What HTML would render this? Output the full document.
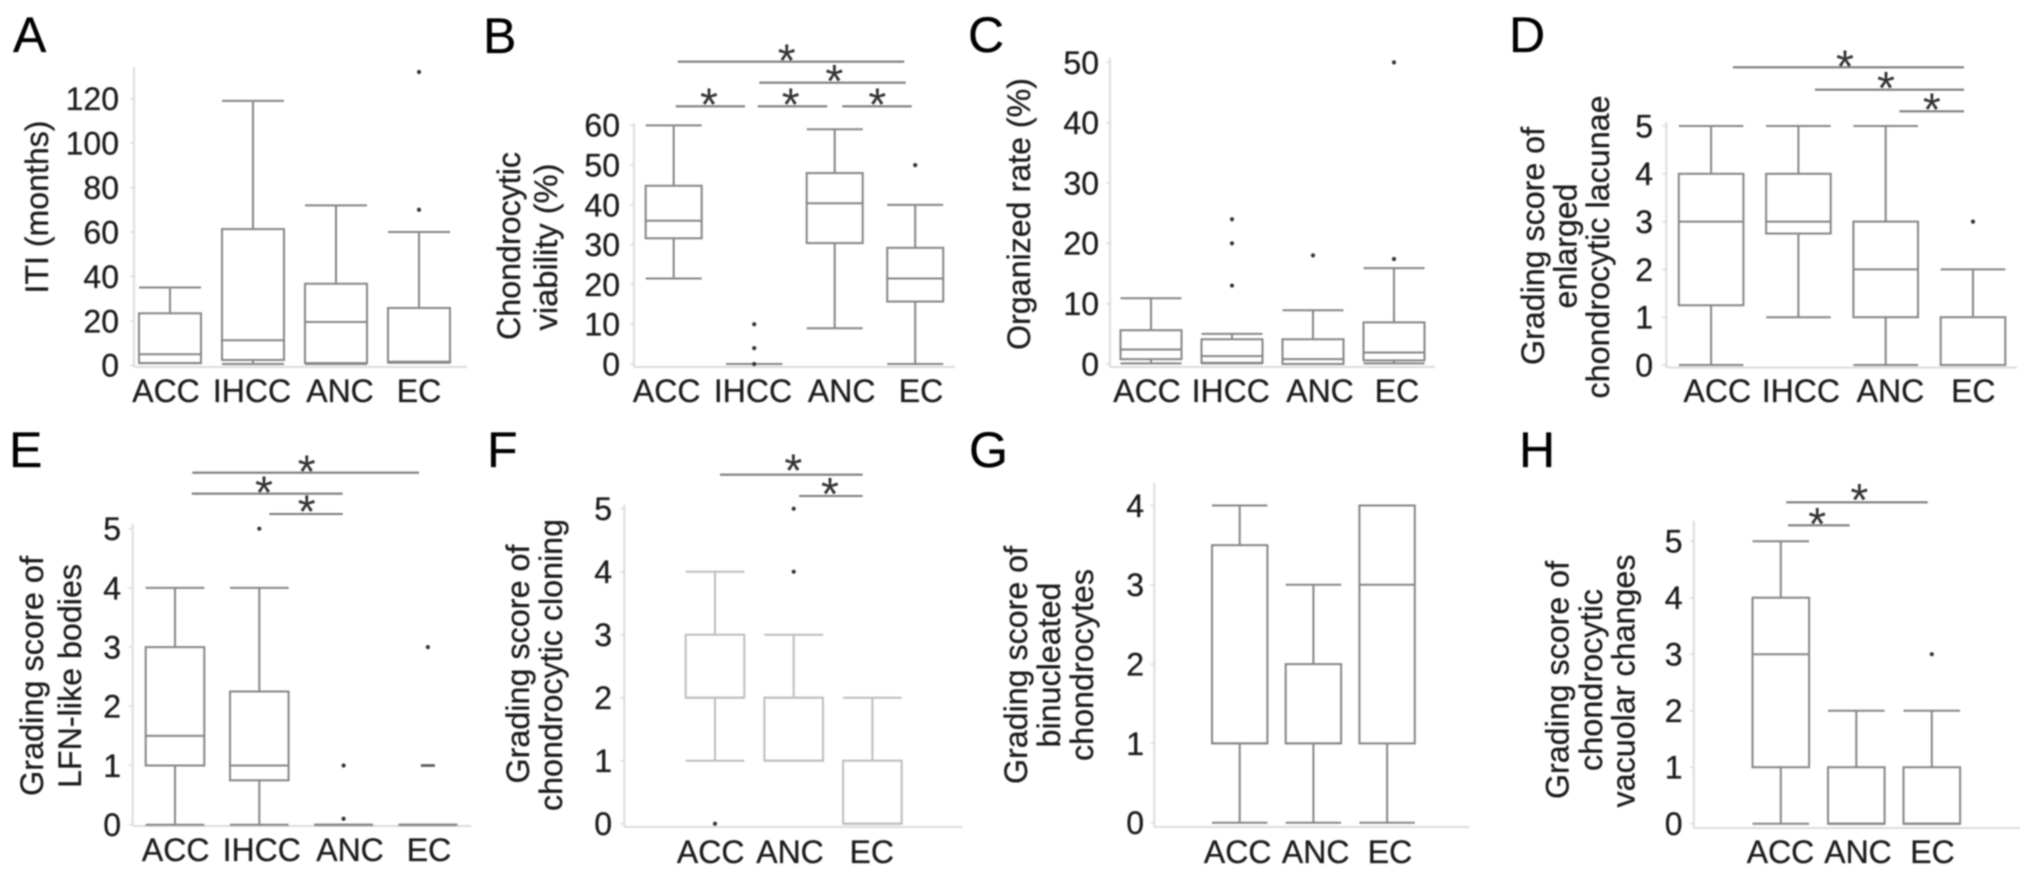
<!DOCTYPE html>
<html lang="en">
<head>
<meta charset="utf-8">
<title>Boxplots of grading scores</title>
<style>
  html, body { margin: 0; padding: 0; background: #fff; }
  #figure { display: block; width: 2032px; height: 876px; filter: blur(0.7px); }
  text { font-family: "Liberation Sans", sans-serif; }
  .letter { font-size: 50px; fill: #000; stroke: #000; stroke-width: 0.3px; }
  .ytitle { font-size: 32px; fill: #1c1c1c; stroke: #1c1c1c; stroke-width: 0.3px; text-anchor: middle; }
</style>
</head>
<body>
<svg id="figure" xmlns="http://www.w3.org/2000/svg" width="2032" height="876" viewBox="0 0 2032 876">
  <rect width="2032" height="876" fill="#fff"/>

  <text class="letter" x="13" y="52">A</text>
  <text class="letter" x="483" y="53">B</text>
  <text class="letter" x="968" y="52">C</text>
  <text class="letter" x="1509" y="52">D</text>
  <text class="letter" x="9" y="467">E</text>
  <text class="letter" x="487" y="467">F</text>
  <text class="letter" x="969" y="467">G</text>
  <text class="letter" x="1519" y="467">H</text>

  <text class="ytitle" transform="translate(48,207) rotate(-90)" textLength="173" lengthAdjust="spacingAndGlyphs">ITI (months)</text>

  <text class="ytitle" transform="translate(520,246) rotate(-90)" textLength="188" lengthAdjust="spacingAndGlyphs">Chondrocytic</text>
  <text class="ytitle" transform="translate(557,247) rotate(-90)" textLength="167" lengthAdjust="spacingAndGlyphs">viability (%)</text>

  <text class="ytitle" transform="translate(1030,214) rotate(-90)" textLength="272" lengthAdjust="spacingAndGlyphs">Organized rate (%)</text>

  <text class="ytitle" transform="translate(1544,246) rotate(-90)" textLength="238" lengthAdjust="spacingAndGlyphs">Grading score of</text>
  <text class="ytitle" transform="translate(1576.5,246) rotate(-90)" textLength="125" lengthAdjust="spacingAndGlyphs">enlarged</text>
  <text class="ytitle" transform="translate(1609,247) rotate(-90)" textLength="303" lengthAdjust="spacingAndGlyphs">chondrocytic lacunae</text>

  <text class="ytitle" transform="translate(43,676) rotate(-90)" textLength="240" lengthAdjust="spacingAndGlyphs">Grading score of</text>
  <text class="ytitle" transform="translate(81,676) rotate(-90)" textLength="224" lengthAdjust="spacingAndGlyphs">LFN-like bodies</text>

  <text class="ytitle" transform="translate(529,664) rotate(-90)" textLength="239" lengthAdjust="spacingAndGlyphs">Grading score of</text>
  <text class="ytitle" transform="translate(562,665) rotate(-90)" textLength="292" lengthAdjust="spacingAndGlyphs">chondrocytic cloning</text>

  <text class="ytitle" transform="translate(1027,665) rotate(-90)" textLength="238" lengthAdjust="spacingAndGlyphs">Grading score of</text>
  <text class="ytitle" transform="translate(1060,665) rotate(-90)" textLength="165" lengthAdjust="spacingAndGlyphs">binucleated</text>
  <text class="ytitle" transform="translate(1093,665) rotate(-90)" textLength="192" lengthAdjust="spacingAndGlyphs">chondrocytes</text>

  <text class="ytitle" transform="translate(1568.3,680) rotate(-90)" textLength="238" lengthAdjust="spacingAndGlyphs">Grading score of</text>
  <text class="ytitle" transform="translate(1602,680) rotate(-90)" textLength="182" lengthAdjust="spacingAndGlyphs">chondrocytic</text>
  <text class="ytitle" transform="translate(1634.6,681) rotate(-90)" textLength="253" lengthAdjust="spacingAndGlyphs">vacuolar changes</text>

  <g id="panel-a"></g>
  <g id="panel-b"></g>
  <g id="panel-c"></g>
  <g id="panel-d"></g>
  <g id="panel-e"></g>
  <g id="panel-f"></g>
  <g id="panel-g"></g>
  <g id="panel-h"></g>
</svg>

<script>
/* ---------- Data: panel A ---------- */
const aCategories = ['ACC', 'IHCC', 'ANC', 'EC'];
const aTicks = [0, 20, 40, 60, 80, 100, 120];
const aLow = [1, 0.6, 0.6, 1.2];
const aQ1 = [1, 2.4, 1, 1.2];
const aMedian = [5, 11.3, 19.5, 1.6];
const aQ3 = [23.4, 61.3, 36.7, 25.8];
const aHigh = [35, 119, 72, 60];
const aOutliers = [[], [], [], [70, 132]];

/* ---------- Data: panel B ---------- */
const bCategories = ['ACC', 'IHCC', 'ANC', 'EC'];
const bTicks = [0, 10, 20, 30, 40, 50, 60];
const bLow = [21.5, 0, 9, 0];
const bQ1 = [31.6, 0, 30.4, 15.7];
const bMedian = [36, 0, 40.4, 21.5];
const bQ3 = [44.8, 0, 48, 29.2];
const bHigh = [60, 0, 59, 40];
const bOutliers = [[], [0, 4, 10], [], [50]];

/* ---------- Data: panel C ---------- */
const cCategories = ['ACC', 'IHCC', 'ANC', 'EC'];
const cTicks = [0, 10, 20, 30, 40, 50];
const cLow = [0.1, 0.1, 0, 0.1];
const cQ1 = [0.8, 0.2, 0, 0.6];
const cMedian = [2.4, 1.3, 0.8, 1.9];
const cQ3 = [5.6, 4.1, 4.1, 6.9];
const cHigh = [10.9, 5, 8.9, 15.9];
const cOutliers = [[], [13, 20, 24], [18], [17.4, 50]];

/* ---------- Data: panel D ---------- */
const dCategories = ['ACC', 'IHCC', 'ANC', 'EC'];
const dTicks = [0, 1, 2, 3, 4, 5];
const dLow = [0, 1, 0, 0];
const dQ1 = [1.25, 2.75, 1, 0];
const dMedian = [3, 3, 2, 0];
const dQ3 = [4, 4, 3, 1];
const dHigh = [5, 5, 5, 2];
const dOutliers = [[], [], [], [3]];

/* ---------- Data: panel E ---------- */
const eCategories = ['ACC', 'IHCC', 'ANC', 'EC'];
const eTicks = [0, 1, 2, 3, 4, 5];
const eLow = [0, 0, 0, 0];
const eQ1 = [1, 0.75, 0, 0];
const eMedian = [1.5, 1, 0, 0];
const eQ3 = [3, 2.25, 0, 0];
const eHigh = [4, 4, 0, 0];
const eOutliers = [[], [5], [0.1, 1], [3]];
const eClusteredOutliers = [null, null, null, 1];

/* ---------- Data: panel F ---------- */
const fCategories = ['ACC', 'ANC', 'EC'];
const fTicks = [0, 1, 2, 3, 4, 5];
const fLow = [1, 1, 0];
const fQ1 = [2, 1, 0];
const fMedian = [2, 2, 0];
const fQ3 = [3, 2, 1];
const fHigh = [4, 3, 2];
const fOutliers = [[0], [4, 5], []];

/* ---------- Data: panel G ---------- */
const gCategories = ['ACC', 'ANC', 'EC'];
const gTicks = [0, 1, 2, 3, 4];
const gLow = [0, 0, 0];
const gQ1 = [1, 1, 1];
const gMedian = [1, 1, 3];
const gQ3 = [3.5, 2, 4];
const gHigh = [4, 3, 4];
const gOutliers = [[], [], []];

/* ---------- Data: panel H ---------- */
const hCategories = ['ACC', 'ANC', 'EC'];
const hTicks = [0, 1, 2, 3, 4, 5];
const hLow = [0, 0, 0];
const hQ1 = [1, 0, 0];
const hMedian = [3, 0, 0];
const hQ3 = [4, 1, 1];
const hHigh = [5, 2, 2];
const hOutliers = [[], [], [3]];

/* ---------- Drawing ---------- */
const SVG_NS = 'http://www.w3.org/2000/svg';
const LINE_COLOR = '#858585';
const AXIS_COLOR = '#dcdcdc';
const TEXT_COLOR = '#1c1c1c';

function make(parent, tag, attrs) {
  const el = document.createElementNS(SVG_NS, tag);
  for (const key in attrs) el.setAttribute(key, attrs[key]);
  parent.appendChild(el);
  return el;
}

function drawPanel(id, data, geo) {
  const root = document.getElementById(id);
  const xScale = function (i) { return geo.x0 + i * geo.step; };
  const yScale = function (v) { return geo.y0 - v * geo.unit; };
  const stroke = geo.stroke || LINE_COLOR;

  /* axes */
  const yAxis = make(root, 'line', { x1: geo.axisX, x2: geo.axisX, y1: geo.axisTop, y2: geo.baseline, stroke: AXIS_COLOR, 'stroke-width': 2 });
  
  
  const xAxis = make(root, 'line', { x1: geo.axisX, x2: geo.axisRight, y1: geo.baseline, y2: geo.baseline, stroke: AXIS_COLOR, 'stroke-width': 2 });
  
  

  /* y ticks */
  data.ticks.forEach(function (t) {
    const mark = make(root, 'line', { x1: geo.axisX - 4, x2: geo.axisX, y1: yScale(t), y2: yScale(t), stroke: AXIS_COLOR, 'stroke-width': 1.5 });
    
    
    const label = make(root, 'text', { x: geo.tickRight, y: yScale(t) + 11.4, 'text-anchor': 'end', 'font-size': 32, fill: TEXT_COLOR, stroke: TEXT_COLOR, 'stroke-width': 0.3 });
    label.textContent = String(t);
    
    
  });

  /* boxes */
  data.categories.forEach(function (cat, i) {
    const cx = xScale(i);
    const left = cx - geo.half;
    const right = cx + geo.half;
    const group = make(root, 'g', { fill: 'none', stroke: stroke, 'stroke-width': 2 });
    
    

    const upper = make(group, 'line', { x1: cx, x2: cx, y1: yScale(data.high[i]), y2: yScale(data.q3[i]) });
    
    
    const lower = make(group, 'line', { x1: cx, x2: cx, y1: yScale(data.q1[i]), y2: yScale(data.low[i]) });
    
    
    const capHigh = make(group, 'line', { x1: left, x2: right, y1: yScale(data.high[i]), y2: yScale(data.high[i]) });
    
    
    const capLow = make(group, 'line', { x1: left, x2: right, y1: yScale(data.low[i]), y2: yScale(data.low[i]) });
    
    
    const box = make(group, 'rect', { x: left, width: right - left, y: yScale(data.q3[i]), height: yScale(data.q1[i]) - yScale(data.q3[i]) });
    
    
    const median = make(group, 'line', { x1: left, x2: right, y1: yScale(data.median[i]), y2: yScale(data.median[i]) });
    
    

    data.outliers[i].forEach(function (v) {
      const dot = make(root, 'circle', { cx: cx, cy: yScale(v), r: 2.1, fill: '#333' });
      
      
    });

    if (data.clustered && data.clustered[i] !== null) {
      const dash = make(root, 'line', { x1: cx - 7, x2: cx + 7, y1: yScale(data.clustered[i]), y2: yScale(data.clustered[i]), stroke: '#555', 'stroke-width': 2.6 });
      
      
    }

    const catLabel = make(root, 'text', { x: geo.labelX[i], y: geo.labelY, 'text-anchor': 'middle', 'font-size': 32, fill: TEXT_COLOR, stroke: TEXT_COLOR, 'stroke-width': 0.3 });
    catLabel.textContent = cat;
    
    
  });

  /* significance annotations */
  (geo.brackets || []).forEach(function (b) {
    const bar = make(root, 'line', { x1: b[0], x2: b[1], y1: b[2], y2: b[2], stroke: '#7c7c7c', 'stroke-width': 2.1 });
    
    
  });
  (geo.stars || []).forEach(function (s) {
    const star = make(root, 'text', { x: s[0], y: s[1] + 23, 'text-anchor': 'middle', 'font-size': 46, fill: '#333' });
    star.textContent = '*';
    
    
  });
}

drawPanel('panel-a',
  { categories: aCategories, ticks: aTicks, low: aLow, q1: aQ1, median: aMedian, q3: aQ3, high: aHigh, outliers: aOutliers },
  { x0: 170, step: 83, half: 31, y0: 365.3, unit: 2.222, axisX: 134, axisTop: 67, axisRight: 467, baseline: 367, tickRight: 119,
    labelX: [166, 252, 340, 419], labelY: 402 });

drawPanel('panel-b',
  { categories: bCategories, ticks: bTicks, low: bLow, q1: bQ1, median: bMedian, q3: bQ3, high: bHigh, outliers: bOutliers },
  { x0: 673.7, step: 80.5, half: 28, y0: 364, unit: 3.978, axisX: 634, axisTop: 123, axisRight: 955, baseline: 367, tickRight: 620,
    labelX: [666.7, 753, 841.7, 921], labelY: 402,
    brackets: [[677.7, 904.3, 61.7], [759.3, 905.7, 82.7], [675.7, 745, 106.3], [757.7, 827.3, 106.3], [842.3, 911.7, 106.3]],
    stars: [[786.7, 53.3], [834.3, 74], [709, 97.3], [790.7, 97.3], [877.3, 97.3]] });

drawPanel('panel-c',
  { categories: cCategories, ticks: cTicks, low: cLow, q1: cQ1, median: cMedian, q3: cQ3, high: cHigh, outliers: cOutliers },
  { x0: 1151, step: 81, half: 30.5, y0: 364, unit: 6.033, axisX: 1110, axisTop: 58, axisRight: 1435, baseline: 367, tickRight: 1099,
    labelX: [1147, 1230.7, 1320, 1397], labelY: 402 });

drawPanel('panel-d',
  { categories: dCategories, ticks: dTicks, low: dLow, q1: dQ1, median: dMedian, q3: dQ3, high: dHigh, outliers: dOutliers },
  { x0: 1711.1, step: 87.3, half: 32.3, y0: 365, unit: 47.8, axisX: 1666.3, axisTop: 122, axisRight: 2017, baseline: 367.5, tickRight: 1653,
    labelX: [1717.3, 1800.9, 1890.4, 1973.3], labelY: 402,
    brackets: [[1732.9, 1964, 67.3], [1814.9, 1964, 89.7], [1899.5, 1964, 111.3]],
    stars: [[1845, 59.3], [1885.9, 81], [1931.8, 102.7]] });

drawPanel('panel-e',
  { categories: eCategories, ticks: eTicks, low: eLow, q1: eQ1, median: eMedian, q3: eQ3, high: eHigh, outliers: eOutliers, clustered: eClusteredOutliers },
  { x0: 175, step: 84.3, half: 29.3, y0: 824.7, unit: 59.2, axisX: 132.7, axisTop: 524, axisRight: 471, baseline: 826, tickRight: 121,
    labelX: [175.7, 261.7, 350, 429], labelY: 861,
    brackets: [[192.3, 419, 472.7], [191.7, 342.7, 493.7], [269.3, 342.7, 514]],
    stars: [[306.7, 464.7], [264, 485.3], [306.7, 504.7]] });

drawPanel('panel-f',
  { categories: fCategories, ticks: fTicks, low: fLow, q1: fQ1, median: fMedian, q3: fQ3, high: fHigh, outliers: fOutliers },
  { x0: 715, step: 78.7, half: 29.3, y0: 823.7, unit: 63, axisX: 624.3, axisTop: 504.7, axisRight: 962.3, baseline: 827, tickRight: 612, stroke: '#bdbdbd',
    labelX: [710.7, 790, 871.7], labelY: 863,
    brackets: [[720, 862.7, 474.7], [799, 862.7, 496]],
    stars: [[793.3, 463.3], [830, 487]] });

drawPanel('panel-g',
  { categories: gCategories, ticks: gTicks, low: gLow, q1: gQ1, median: gMedian, q3: gQ3, high: gHigh, outliers: gOutliers },
  { x0: 1239.7, step: 73.7, half: 27.7, y0: 822.7, unit: 79.3, axisX: 1154.3, axisTop: 483, axisRight: 1469, baseline: 827, tickRight: 1144,
    labelX: [1237.7, 1315.7, 1390], labelY: 863 });

drawPanel('panel-h',
  { categories: hCategories, ticks: hTicks, low: hLow, q1: hQ1, median: hMedian, q3: hQ3, high: hHigh, outliers: hOutliers },
  { x0: 1780.8, step: 75.5, half: 28.3, y0: 823.7, unit: 56.5, axisX: 1693.8, axisTop: 520.7, axisRight: 2020, baseline: 828, tickRight: 1682.6,
    labelX: [1780.5, 1858, 1932.5], labelY: 863,
    brackets: [[1786.3, 1927.7, 502.3], [1788, 1849.6, 525.3]],
    stars: [[1859.3, 493], [1817.2, 517]] });
</script>
</body>
</html>
